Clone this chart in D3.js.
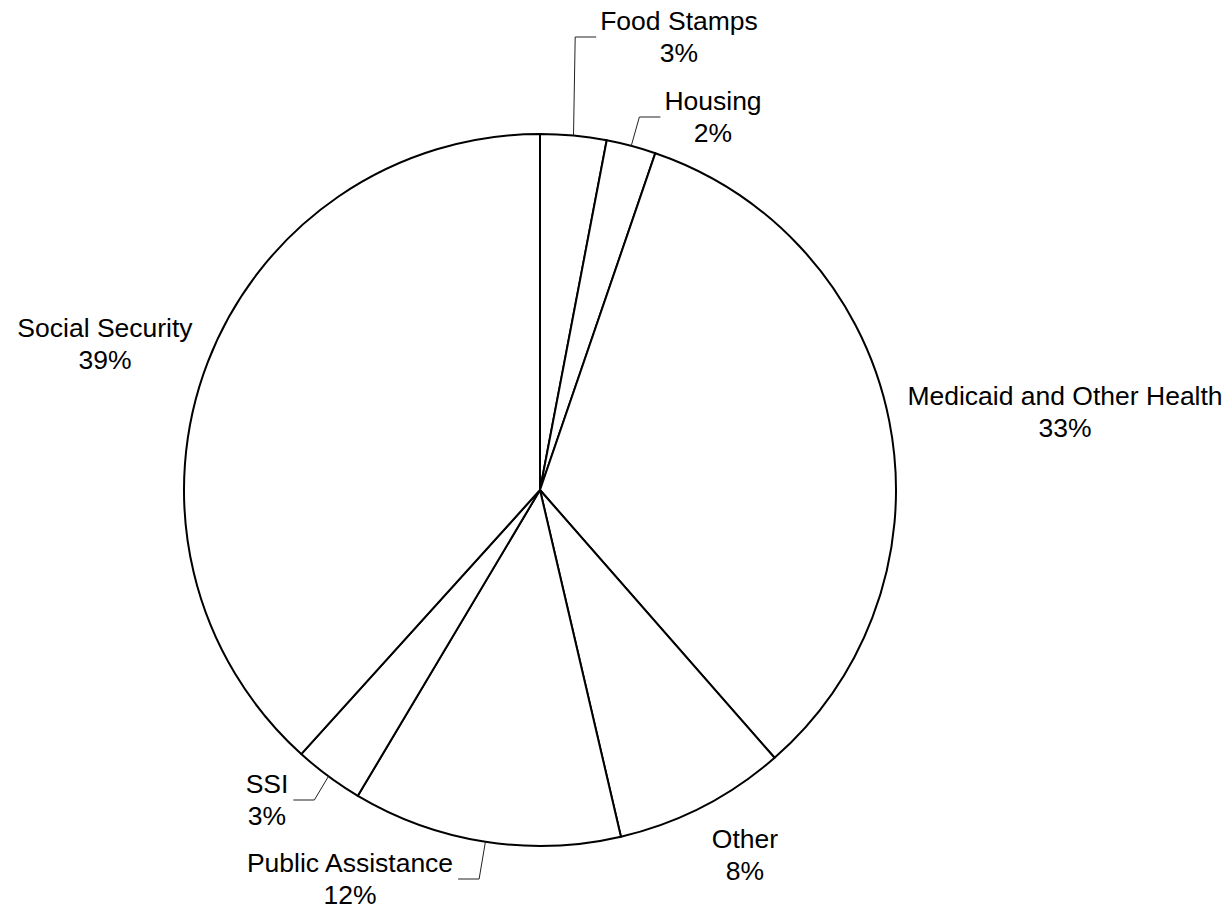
<!DOCTYPE html>
<html>
<head>
<meta charset="utf-8">
<script src="https://cdn.jsdelivr.net/npm/d3@7"></script>
<style>
  body { margin: 0; background: #fff; }
  svg text { font-family: "Liberation Sans", Arial, sans-serif; font-size: 26.5px; fill: #000; }
</style>
</head>
<body>
<svg id="chart"></svg>
<script>
// Data
var categories = ["Food Stamps", "Housing", "Medicaid and Other Health", "Other",
                  "Public Assistance", "SSI", "Social Security"];
var shares = [3.0, 2.25, 33.3, 7.8, 12.2, 3.15, 38.3];
var percentLabels = ["3%", "2%", "33%", "8%", "12%", "3%", "39%"];

// Layout for labels (center x, first baseline y) and whether a leader line is drawn
var labelLayout = [
    { x: 679, y: 30, leader: "left" },
    { x: 713, y: 110, leader: "left" },
    { x: 1065, y: 405, leader: null },
    { x: 745, y: 848, leader: null },
    { x: 350, y: 872, leader: "right" },
    { x: 267, y: 793, leader: "right" },
    { x: 105, y: 337, leader: null }
];

// Set dimensions
var width = 1232,
    height = 911,
    cx = 540,
    cy = 490,
    radius = 356,
    lineGap = 32;

var svg = d3.select("#chart")
    .attr("width", width)
    .attr("height", height);

var pie = d3.pie()
    .sort(null)
    .value(function(d) { return d; });

var arc = d3.arc()
    .innerRadius(0)
    .outerRadius(radius);

var arcs = pie(shares);

var g = svg.append("g")
    .attr("transform", "translate(" + cx + "," + cy + ")");

g.selectAll("path.slice")
    .data(arcs)
    .enter()
    .append("path")
    .attr("class", "slice")
    .attr("d", arc)
    .attr("fill", "#fff")
    .attr("stroke", "#000")
    .attr("stroke-width", 2)
    .attr("stroke-linejoin", "round");

// Labels
var labels = svg.selectAll("g.label")
    .data(arcs)
    .enter()
    .append("g")
    .attr("class", "label");

labels.append("text")
    .attr("x", function(d, i) { return labelLayout[i].x; })
    .attr("y", function(d, i) { return labelLayout[i].y; })
    .attr("text-anchor", "middle")
    .text(function(d, i) { return categories[i]; });

labels.append("text")
    .attr("x", function(d, i) { return labelLayout[i].x; })
    .attr("y", function(d, i) { return labelLayout[i].y + lineGap; })
    .attr("text-anchor", "middle")
    .text(function(d, i) { return percentLabels[i]; });

// Leader lines from slice edge to the label block
labels.each(function(d, i) {
    var side = labelLayout[i].leader;
    if (!side) return;
    var box = this.getBBox();
    var mid = (d.startAngle + d.endAngle) / 2;
    var sx = cx + radius * Math.sin(mid),
        sy = cy - radius * Math.cos(mid);
    var ey = box.y + box.height / 2,
        ex = side === "left" ? box.x - 4 : box.x + box.width + 5,
        elbowX = side === "left" ? ex - 21 : ex + 21;
    d3.select(this).append("polyline")
        .attr("points", [[sx, sy], [elbowX, ey], [ex, ey]].join(" "))
        .attr("fill", "none")
        .attr("stroke", "#222")
        .attr("stroke-width", 1);
});
</script>
</body>
</html>
